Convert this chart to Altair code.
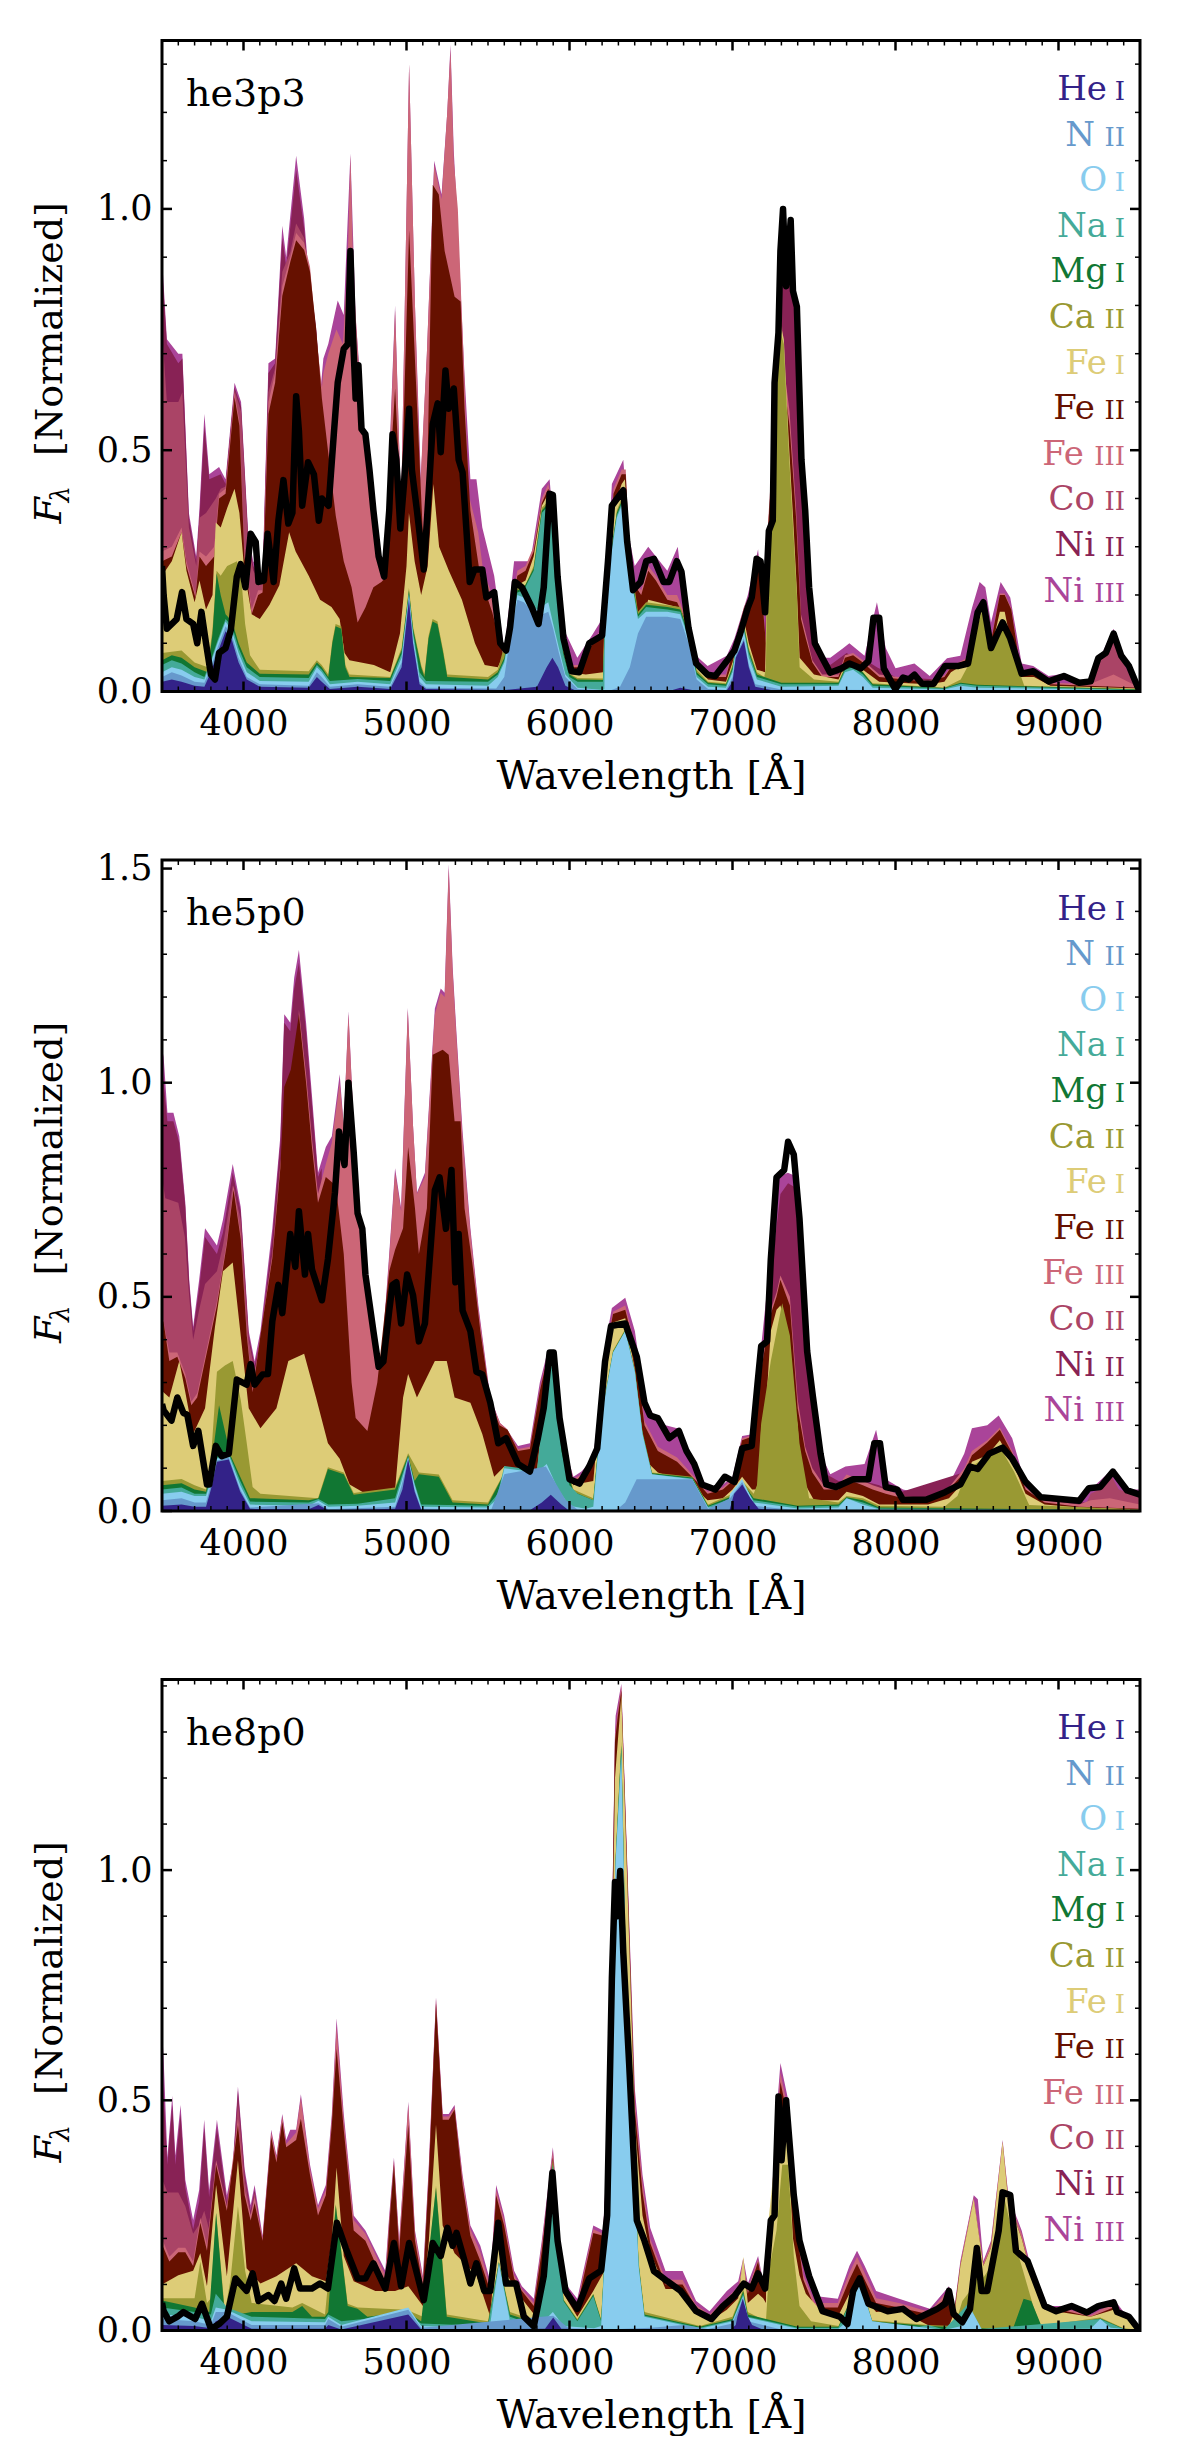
import altair as alt
import pandas as pd

W, H = 978, 651
FONT = "DejaVu Serif"
COLORS = {"He": "#332288", "N": "#6699CC", "O": "#88CCEE", "Na": "#44AA99", "Mg": "#117733", "Ca": "#999933",
          "Fe1": "#DDCC77", "Fe2": "#661100", "Fe3": "#CC6677", "Co": "#AA4466", "Ni2": "#882255", "Ni3": "#AA4499"}
ORDER = ["Ni3", "Ni2", "Co", "Fe3", "Fe2", "Fe1", "Ca", "Mg", "Na", "O", "N", "He"]
ELEMENTS = ["He", "N", "O", "Na", "Mg", "Ca", "Fe", "Fe", "Fe", "Co", "Ni", "Ni"]
IONS = ["I", "II", "I", "I", "I", "II", "I", "II", "III", "II", "II", "III"]
LEGEND_KEYS = ["He", "N", "O", "Na", "Mg", "Ca", "Fe1", "Fe2", "Fe3", "Co", "Ni2", "Ni3"]
X_MAJOR = [4000, 5000, 6000, 7000, 8000, 9000]
X_MINOR = [v for v in range(3600, 9500, 100) if v % 1000]

# ---------- he3p3 : upper edge of each species in the stack ----------
P1_Ni3 = [(3500,.9),(3530,.73),(3600,.7),(3625,.7),(3665,.37),(3710,.28),(3730,.38),(3760,.575),(3790,.45),(3850,.465),(3890,.44),(3945,.64),(3985,.6),(4030,.32),(4060,.27),(4117,.24),(4153,.68),(4194,.69),(4238,.965),(4262,.9),(4323,1.11),(4372,.98),(4396,.88),(4445,.755),(4474,.63),(4490,.69),(4520,.72),(4578,.81),(4615,.78),(4656,1.115),(4688,.775),(4736,.555),(4797,.375),(4846,.27),(4870,.24),(4894,.48),(4930,.8),(4967,.375),(5016,1.3),(5052,.8),(5088,.44),(5125,.7),(5170,1.1),(5215,1.03),(5250,1.2),(5270,1.34),(5290,1.12),(5307,1.01),(5332,.83),(5356,.655),(5392,.44),(5429,.44),(5465,.34),(5538,.24),(5600,.085),(5660,.27),(5760,.27),(5830,.42),(5878,.44),(5950,.14),(6048,.07),(6145,.12),(6218,.16),(6260,.43),(6330,.48),(6366,.32),(6400,.26),(6483,.3),(6530,.28),(6600,.25),(6664,.3),(6718,.15),(6777,.074),(6847,.053),(6965,.074),(7012,.11),(7094,.2),(7157,.295),(7188,.164),(7215,.3),(7250,.4),(7270,.7),(7300,.98),(7360,.95),(7380,.79),(7420,.46),(7450,.33),(7470,.2),(7510,.1),(7560,.07),(7600,.07),(7680,.09),(7717,.1),(7810,.074),(7886,.185),(7940,.09),(8000,.048),(8116,.058),(8210,.032),(8316,.069),(8398,.074),(8470,.174),(8516,.227),(8551,.216),(8586,.143),(8645,.227),(8704,.195),(8774,.058),(8845,.053),(8939,.032),(9033,.037),(9127,.018),(9220,.026),(9268,.08),(9338,.13),(9409,.058),(9491,.005),(9500,.003)]
P1_Ni2 = [(3500,.88),(3530,.72),(3600,.68),(3625,.69),(3665,.36),(3710,.27),(3730,.36),(3760,.55),(3790,.44),(3860,.45),(3890,.43),(3945,.63),(3985,.59),(4030,.31),(4060,.26),(4117,.23),(4153,.66),(4194,.68),(4238,.94),(4262,.88),(4323,1.08),(4372,.96),(4396,.87),(4445,.75),(4474,.62),(4476,0),(7190,0),(7215,.28),(7250,.38),(7270,.68),(7300,.96),(7360,.93),(7380,.78),(7420,.44),(7450,.3),(7470,.19),(7510,.09),(7600,.055),(7700,.08),(7800,.06),(7840,.06),(7886,.05),(8000,.03),(9500,0)]
P1_Co = [(3500,.75),(3530,.6),(3600,.6),(3625,.62),(3665,.34),(3710,.26),(3730,.36),(3770,.37),(3830,.4),(3860,.42),(3890,.425),(3945,.625),(3985,.58),(4030,.3),(4060,.25),(4117,.22),(4153,.62),(4194,.67),(4238,.87),(4287,.91),(4323,.97),(4372,.94),(4396,.86),(4445,.745),(4474,.61),(4476,0),(9180,0),(9190,.02),(9240,.05),(9268,.075),(9338,.125),(9370,.09),(9409,.052),(9480,.005),(9500,.002)]
P1_Fe3 = [(3500,.29),(3560,.3),(3620,.34),(3650,.27),(3705,.2),(3730,.29),(3770,.28),(3820,.3),(3850,.41),(3890,.42),(3945,.62),(3975,.56),(4005,.29),(4050,.17),(4090,.21),(4115,.21),(4153,.6),(4194,.66),(4238,.84),(4287,.9),(4323,.95),(4372,.93),(4408,.88),(4445,.74),(4481,.63),(4490,.66),(4520,.7),(4570,.75),(4610,.72),(4640,.9),(4656,1.11),(4675,.85),(4690,.77),(4720,.6),(4750,.52),(4790,.4),(4830,.3),(4870,.24),(4894,.46),(4930,.79),(4967,.375),(5016,1.3),(5052,.8),(5085,.43),(5125,.7),(5170,1.09),(5215,1.02),(5250,1.2),(5270,1.33),(5290,1.1),(5315,1.0),(5335,.82),(5355,.65),(5380,.41),(5440,.33),(5470,.25),(5526,.2),(5599,.075),(5640,.17),(5680,.25),(5730,.26),(5780,.3),(5830,.4),(5870,.43),(5900,.38),(5930,.23),(5960,.11),(6010,.055),(6060,.055),(6120,.1),(6205,.13),(6218,.2),(6270,.42),(6320,.46),(6345,.46),(6365,.31),(6400,.23),(6440,.21),(6483,.26),(6530,.24),(6600,.2),(6660,.2),(6730,.14),(6780,.06),(6850,.035),(6960,.035),(7000,.085),(7070,.175),(7120,.21),(7157,.285),(7190,.16),(7205,.1),(7220,.36),(7250,.52),(7290,.84),(7320,.66),(7350,.58),(7390,.38),(7420,.16),(7450,.12),(7490,.065),(7550,.035),(7650,.035),(7690,.075),(7740,.08),(7800,.065),(7900,.035),(8200,.022),(8300,.033),(8340,.052),(8430,.068),(8490,.137),(8530,.178),(8565,.133),(8590,.113),(8640,.203),(8670,.203),(8710,.173),(8770,.042),(8850,.037),(8950,.018),(9190,.015),(9338,.035),(9500,.008)]
P1_Fe2 = [(3500,.27),(3560,.28),(3620,.33),(3650,.26),(3705,.195),(3730,.28),(3770,.26),(3820,.28),(3850,.4),(3890,.41),(3945,.61),(3975,.55),(4005,.28),(4050,.16),(4090,.2),(4117,.205),(4153,.575),(4194,.64),(4238,.82),(4287,.89),(4323,.935),(4372,.915),(4408,.87),(4445,.755),(4481,.607),(4518,.5),(4566,.364),(4615,.27),(4663,.216),(4700,.143),(4748,.174),(4797,.216),(4846,.227),(4870,.235),(4894,.428),(4930,.628),(4967,.375),(5016,.956),(5064,.597),(5101,.322),(5118,.27),(5161,1.05),(5198,1.03),(5234,.913),(5295,.818),(5332,.808),(5356,.586),(5392,.375),(5453,.238),(5526,.164),(5599,.069),(5640,.16),(5680,.24),(5730,.25),(5780,.29),(5830,.39),(5870,.42),(5900,.37),(5930,.22),(5960,.1),(6010,.05),(6060,.05),(6120,.09),(6205,.12),(6218,.2),(6270,.41),(6320,.45),(6345,.45),(6365,.31),(6400,.22),(6440,.2),(6483,.25),(6530,.23),(6600,.19),(6660,.185),(6730,.135),(6780,.055),(6850,.03),(6960,.03),(7000,.08),(7070,.17),(7120,.2),(7157,.28),(7190,.16),(7205,.1),(7220,.35),(7250,.5),(7290,.82),(7320,.63),(7350,.55),(7390,.36),(7420,.15),(7450,.11),(7490,.06),(7550,.03),(7650,.03),(7690,.07),(7740,.075),(7800,.06),(7900,.03),(8200,.02),(8300,.03),(8340,.05),(8430,.065),(8490,.135),(8530,.175),(8565,.13),(8590,.11),(8640,.2),(8670,.2),(8710,.17),(8770,.04),(8850,.035),(8950,.015),(9500,.008)]
P1_Fe1 = [(3500,.24),(3560,.27),(3620,.33),(3650,.25),(3700,.185),(3730,.23),(3770,.17),(3810,.2),(3830,.35),(3860,.34),(3900,.38),(3945,.42),(3975,.37),(4005,.25),(4050,.16),(4100,.15),(4160,.18),(4220,.22),(4280,.33),(4320,.29),(4400,.24),(4470,.19),(4540,.175),(4590,.15),(4620,.08),(4650,.065),(4800,.055),(4900,.04),(4960,.12),(5000,.26),(5015,.37),(5050,.27),(5090,.2),(5130,.26),(5165,.43),(5200,.3),(5260,.25),(5340,.19),(5420,.1),(5480,.055),(5560,.05),(5600,.08),(5640,.15),(5680,.22),(5730,.23),(5780,.28),(5830,.385),(5870,.41),(5900,.36),(5930,.21),(5960,.09),(6000,.04),(6100,.035),(6205,.04),(6218,.19),(6270,.38),(6320,.43),(6340,.44),(6365,.3),(6400,.19),(6436,.14),(6483,.19),(6660,.175),(6730,.13),(6780,.05),(6850,.025),(6960,.02),(7000,.06),(7070,.15),(7100,.1),(7150,.045),(7200,.04),(7215,.28),(7240,.37),(7265,.66),(7290,.77),(7315,.73),(7345,.52),(7375,.34),(7395,.21),(7412,.07),(7500,.035),(7650,.025),(7690,.055),(7740,.06),(7800,.045),(7900,.02),(8200,.015),(8300,.02),(8340,.04),(8390,.05),(8430,.055),(8490,.125),(8530,.17),(8565,.125),(8590,.09),(8640,.165),(8670,.165),(8700,.115),(8770,.03),(8850,.03),(8950,.012),(9500,.006)]
P1_Ca = [(3500,.08),(3620,.085),(3700,.06),(3780,.05),(3810,.13),(3835,.25),(3860,.24),(3900,.26),(3960,.27),(3990,.22),(4010,.14),(4040,.075),(4100,.045),(4400,.042),(4450,.065),(4480,.055),(4520,.035),(4545,.105),(4565,.14),(4600,.135),(4625,.055),(4650,.035),(4900,.03),(4970,.09),(5015,.215),(5040,.135),(5090,.055),(5110,.035),(5135,.115),(5160,.15),(5190,.145),(5225,.085),(5250,.035),(5500,.03),(5560,.045),(5640,.145),(5680,.215),(5730,.22),(5780,.26),(5830,.38),(5870,.395),(5900,.35),(5930,.205),(5960,.088),(6000,.037),(6050,.028),(6205,.027),(6218,.155),(6290,.375),(6320,.4),(6350,.335),(6420,.165),(6470,.185),(6680,.175),(6730,.125),(6780,.045),(6850,.02),(6960,.017),(7000,.055),(7070,.14),(7100,.09),(7150,.04),(7195,.03),(7205,.05),(7215,.27),(7240,.36),(7265,.65),(7290,.75),(7315,.72),(7345,.5),(7375,.32),(7395,.2),(7412,.05),(7500,.025),(7650,.02),(7690,.05),(7740,.055),(7800,.04),(7860,.017),(8300,.008),(8400,.025),(8440,.05),(8490,.12),(8530,.165),(8565,.12),(8590,.085),(8650,.135),(8700,.105),(8740,.06),(8790,.012),(9500,.005)]
P1_Mg = [(3500,.065),(3560,.075),(3620,.07),(3700,.05),(3780,.04),(3810,.12),(3835,.245),(3860,.2),(3890,.16),(3930,.145),(3970,.1),(4020,.06),(4100,.037),(4400,.035),(4450,.06),(4480,.05),(4520,.03),(4545,.1),(4565,.135),(4600,.13),(4625,.05),(4650,.03),(4900,.028),(4970,.085),(5015,.21),(5040,.13),(5090,.05),(5110,.03),(5135,.11),(5160,.145),(5190,.14),(5225,.08),(5250,.03),(5500,.025),(5560,.04),(5600,.07),(5640,.14),(5680,.21),(5720,.215),(5780,.255),(5830,.375),(5870,.39),(5900,.345),(5930,.205),(5960,.085),(6000,.035),(6050,.025),(6205,.024),(6218,.15),(6250,.28),(6290,.37),(6320,.395),(6350,.33),(6380,.24),(6420,.16),(6470,.18),(6600,.175),(6680,.17),(6730,.12),(6780,.04),(6850,.018),(6960,.015),(7000,.05),(7020,.095),(7070,.135),(7100,.085),(7150,.035),(7300,.018),(7650,.018),(7690,.048),(7740,.053),(7800,.04),(7860,.015),(8300,.007),(8400,.018),(8500,.014),(9500,.004)]
P1_Na = [(3500,.055),(3560,.065),(3620,.058),(3700,.04),(3760,.03),(3800,.065),(3840,.105),(3890,.15),(3930,.135),(3970,.09),(4020,.05),(4100,.03),(4400,.028),(4450,.055),(4480,.045),(4530,.022),(4700,.026),(4900,.022),(4970,.078),(5015,.205),(5040,.125),(5080,.04),(5120,.022),(5500,.02),(5560,.035),(5600,.065),(5640,.135),(5680,.205),(5720,.21),(5780,.25),(5830,.37),(5870,.385),(5900,.34),(5930,.2),(5960,.08),(6000,.03),(6050,.02),(6205,.02),(6218,.145),(6250,.275),(6290,.365),(6320,.39),(6350,.325),(6380,.235),(6420,.155),(6470,.175),(6600,.17),(6680,.165),(6730,.115),(6780,.035),(6850,.015),(6960,.012),(7000,.045),(7020,.09),(7070,.13),(7100,.08),(7150,.03),(7300,.015),(7650,.015),(7690,.045),(7740,.05),(7800,.035),(7860,.012),(8300,.006),(8400,.016),(8500,.012),(9500,.003)]
P1_O = [(3500,.04),(3560,.05),(3620,.045),(3700,.03),(3760,.025),(3800,.06),(3840,.1),(3890,.145),(3930,.125),(3970,.08),(4020,.04),(4100,.022),(4400,.02),(4450,.05),(4480,.04),(4530,.015),(4700,.02),(4900,.015),(4970,.07),(5015,.2),(5040,.115),(5080,.03),(5120,.015),(5500,.012),(5560,.03),(5600,.06),(5640,.13),(5680,.2),(5720,.195),(5800,.17),(5870,.185),(5900,.14),(5935,.09),(5975,.035),(6050,.008),(6205,.003),(6214,.005),(6218,.14),(6250,.27),(6290,.36),(6320,.385),(6350,.32),(6380,.23),(6420,.15),(6470,.165),(6600,.165),(6680,.16),(6730,.11),(6780,.03),(6850,.01),(6960,.008),(7000,.04),(7020,.085),(7070,.125),(7100,.07),(7150,.025),(7300,.01),(7650,.012),(7690,.04),(7740,.045),(7800,.03),(7860,.008),(8300,.004),(8400,.012),(8500,.008),(9500,.002)]
P1_N = [(3500,.03),(3560,.04),(3620,.033),(3700,.02),(3760,.018),(3800,.05),(3840,.09),(3890,.135),(3930,.115),(3970,.07),(4020,.03),(4100,.015),(4400,.012),(4450,.04),(4480,.03),(4530,.01),(4700,.015),(4900,.01),(4970,.06),(5015,.195),(5040,.105),(5080,.02),(5120,.008),(5550,.006),(5600,.03),(5640,.12),(5680,.19),(5720,.185),(5800,.155),(5870,.165),(5900,.13),(5935,.08),(5975,.03),(6050,.005),(6250,.002),(6310,.01),(6370,.05),(6420,.12),(6470,.155),(6600,.155),(6680,.15),(6730,.1),(6780,.025),(6850,.005),(6960,.003),(7000,.03),(7020,.075),(7070,.11),(7100,.055),(7140,.015),(7300,.004),(9500,0)]
P1_He = [(3500,.02),(3560,.025),(3620,.02),(3700,.012),(3760,.01),(3800,.04),(3840,.08),(3890,.125),(3930,.105),(3970,.06),(4020,.025),(4100,.01),(4400,.008),(4450,.03),(4480,.02),(4530,.005),(4700,.01),(4900,.005),(4970,.05),(5015,.19),(5040,.1),(5080,.015),(5120,.005),(5600,.003),(5800,.01),(5860,.05),(5895,.07),(5930,.05),(5975,.012),(6050,0),(6600,0),(6680,.008),(6800,0),(6960,0),(7000,.02),(7020,.07),(7070,.105),(7100,.05),(7140,.01),(7250,.002),(9500,0)]
P1_OBS = [(3500,.26),(3510,.2),(3530,.13),(3560,.14),(3590,.15),(3623,.206),(3650,.15),(3691,.14),(3716,.1),(3742,.165),(3770,.1),(3800,.035),(3825,.025),(3850,.08),(3890,.09),(3922,.127),(3959,.238),(3983,.264),(4012,.216),(4044,.327),(4075,.31),(4092,.227),(4125,.23),(4148,.327),(4185,.227),(4214,.354),(4245,.438),(4275,.348),(4300,.37),(4323,.612),(4340,.54),(4360,.385),(4396,.475),(4432,.45),(4462,.354),(4481,.4),(4522,.385),(4554,.533),(4578,.64),(4615,.71),(4640,.72),(4656,.913),(4670,.755),(4688,.607),(4705,.676),(4724,.544),(4748,.533),(4773,.459),(4797,.375),(4829,.28),(4863,.238),(4894,.375),(4914,.533),(4938,.48),(4962,.338),(4984,.428),(5016,.586),(5033,.459),(5064,.375),(5106,.253),(5137,.417),(5161,.554),(5191,.597),(5210,.496),(5239,.665),(5259,.586),(5290,.628),(5320,.48),(5344,.454),(5368,.333),(5388,.227),(5417,.253),(5465,.253),(5490,.195),(5538,.206),(5575,.1),(5611,.085),(5635,.132),(5665,.227),(5708,.216),(5769,.174),(5810,.14),(5842,.216),(5878,.41),(5898,.407),(5927,.238),(5963,.11),(6012,.042),(6060,.04),(6121,.1),(6170,.11),(6200,.116),(6236,.27),(6260,.385),(6330,.417),(6354,.31),(6390,.21),(6436,.227),(6471,.27),(6518,.275),(6577,.227),(6612,.227),(6659,.27),(6687,.248),(6730,.132),(6777,.058),(6847,.035),(6894,.032),(6965,.063),(7012,.085),(7047,.12),(7094,.174),(7118,.195),(7148,.275),(7172,.27),(7200,.164),(7223,.333),(7247,.354),(7258,.64),(7282,.744),(7294,.913),(7310,1.0),(7329,.84),(7357,.977),(7371,.83),(7395,.797),(7423,.48),(7446,.375),(7470,.216),(7505,.1),(7552,.069),(7599,.039),(7670,.048),(7717,.058),(7787,.048),(7834,.063),(7865,.153),(7900,.153),(7928,.048),(7999,.005),(8046,.029),(8081,.025),(8116,.035),(8163,.016),(8234,.016),(8304,.053),(8387,.053),(8445,.058),(8504,.164),(8539,.185),(8586,.09),(8657,.143),(8704,.11),(8774,.037),(8845,.042),(8939,.021),(9033,.032),(9127,.018),(9197,.021),(9244,.069),(9291,.08),(9338,.12),(9385,.074),(9432,.053),(9491,.005),(9500,.003)]

# ---------- he5p0 ----------
P2_Ni3 = [(3500,1.08),(3510,1.06),(3533,.93),(3570,.93),(3606,.875),(3643,.72),(3667,.54),(3691,.43),(3728,.54),(3764,.66),(3837,.62),(3874,.68),(3934,.81),(3983,.71),(4032,.42),(4068,.35),(4104,.42),(4177,.66),(4226,.875),(4250,1.16),(4287,1.14),(4311,1.245),(4340,1.31),(4384,1.14),(4420,.97),(4457,.79),(4505,.85),(4542,.875),(4590,1.02),(4615,.9),(4644,1.167),(4676,.9),(4700,.683),(4748,.575),(4797,.42),(4846,.35),(4894,.6),(4930,.8),(4967,.707),(5008,1.175),(5040,.9),(5064,.743),(5113,.79),(5174,1.173),(5210,1.22),(5234,1.21),(5259,1.51),(5283,1.27),(5307,1.113),(5344,.886),(5392,.66),(5441,.48),(5514,.265),(5575,.205),(5611,.193),(5684,.152),(5757,.158),(5818,.3),(5866,.373),(5915,.35),(5963,.158),(6024,.08),(6073,.092),(6146,.122),(6218,.385),(6260,.474),(6342,.498),(6401,.42),(6460,.265),(6542,.205),(6660,.193),(6777,.098),(6847,.056),(6941,.062),(7000,.08),(7059,.175),(7130,.18),(7176,.385),(7235,.6),(7270,.78),(7340,.79),(7400,.78),(7435,.42),(7482,.27),(7540,.134),(7600,.086),(7693,.104),(7810,.11),(7881,.19),(7940,.074),(8046,.05),(8187,.038),(8328,.062),(8422,.134),(8469,.193),(8563,.2),(8633,.223),(8716,.17),(8798,.062),(8915,.032),(9127,.02),(9197,.05),(9315,.092),(9409,.05),(9500,.05)]
P2_Ni2 = [(3500,1.04),(3533,.91),(3570,.91),(3606,.86),(3643,.71),(3667,.53),(3691,.42),(3728,.52),(3764,.64),(3837,.6),(3874,.65),(3934,.79),(3983,.7),(4032,.41),(4068,.34),(4104,.4),(4177,.64),(4226,.86),(4250,1.14),(4287,1.12),(4311,1.22),(4340,1.28),(4384,1.12),(4420,.95),(4457,.78),(4480,.8),(4482,0),(7190,0),(7200,.3),(7235,.55),(7294,.74),(7341,.765),(7388,.755),(7423,.54),(7470,.3),(7517,.18),(7575,.086),(7650,.07),(7800,.07),(7900,.06),(8000,.04),(8500,.1),(8600,.13),(8700,.12),(8800,.04),(9500,0)]
P2_Co = [(3500,.78),(3520,.73),(3600,.72),(3640,.64),(3667,.5),(3691,.4),(3728,.47),(3764,.53),(3837,.56),(3874,.62),(3934,.76),(3983,.68),(4032,.4),(4068,.33),(4104,.38),(4130,.2),(4131,0),(9150,0),(9197,.04),(9250,.05),(9315,.088),(9370,.05),(9409,.045),(9500,.045)]
P2_Fe3 = [(3500,.46),(3545,.37),(3594,.37),(3643,.32),(3680,.255),(3716,.275),(3764,.36),(3837,.49),(3898,.63),(3939,.76),(3983,.645),(4020,.42),(4056,.285),(4104,.41),(4177,.6),(4226,.81),(4275,.95),(4323,1.0),(4340,1.17),(4384,1.02),(4420,.87),(4457,.74),(4505,.81),(4542,.86),(4590,1.0),(4615,.9),(4644,1.16),(4676,.9),(4700,.68),(4748,.57),(4797,.41),(4846,.34),(4894,.59),(4930,.79),(4967,.7),(5008,1.17),(5040,.9),(5064,.74),(5113,.78),(5174,1.16),(5210,1.21),(5234,1.2),(5259,1.5),(5283,1.26),(5307,1.1),(5344,.87),(5392,.65),(5441,.47),(5514,.26),(5575,.205),(5620,.19),(5684,.145),(5757,.15),(5818,.285),(5866,.365),(5915,.345),(5963,.155),(6024,.075),(6073,.085),(6146,.12),(6218,.37),(6267,.465),(6342,.48),(6401,.39),(6460,.21),(6542,.15),(6660,.125),(6777,.075),(6847,.045),(6941,.055),(7000,.075),(7059,.17),(7130,.178),(7176,.34),(7235,.47),(7270,.51),(7294,.55),(7352,.5),(7400,.26),(7446,.15),(7490,.1),(7560,.06),(7650,.06),(7700,.085),(7800,.07),(7860,.06),(7940,.05),(8046,.035),(8187,.03),(8328,.055),(8422,.1),(8469,.14),(8563,.165),(8640,.195),(8716,.14),(8798,.055),(8915,.025),(9127,.015),(9197,.025),(9315,.03),(9500,.015)]
P2_Fe2 = [(3500,.45),(3510,.44),(3545,.35),(3594,.36),(3643,.31),(3680,.247),(3716,.265),(3764,.35),(3837,.48),(3898,.623),(3939,.75),(3983,.635),(4020,.41),(4056,.277),(4104,.41),(4177,.59),(4226,.8),(4250,.99),(4290,1.03),(4340,1.16),(4384,1.0),(4420,.85),(4457,.72),(4505,.78),(4566,.76),(4615,.6),(4663,.3),(4688,.217),(4760,.187),(4821,.3),(4894,.56),(4930,.61),(4979,.66),(5010,.85),(5052,.707),(5076,.6),(5125,.707),(5161,1.065),(5222,1.077),(5259,1.065),(5295,.91),(5332,.91),(5356,.707),(5405,.575),(5453,.42),(5514,.26),(5570,.2),(5620,.19),(5684,.14),(5757,.145),(5818,.28),(5866,.36),(5915,.34),(5963,.15),(6024,.07),(6073,.08),(6146,.115),(6218,.36),(6267,.46),(6342,.47),(6401,.38),(6460,.2),(6542,.14),(6660,.115),(6777,.07),(6847,.04),(6941,.05),(7000,.07),(7059,.165),(7130,.175),(7176,.33),(7235,.46),(7270,.5),(7294,.54),(7352,.48),(7400,.24),(7446,.14),(7490,.09),(7560,.05),(7650,.05),(7700,.075),(7800,.06),(7860,.05),(7940,.04),(8046,.03),(8187,.025),(8328,.05),(8422,.09),(8469,.13),(8563,.16),(8640,.19),(8716,.135),(8798,.05),(8915,.02),(9127,.01),(9500,.005)]
P2_Fe1 = [(3500,.28),(3545,.265),(3606,.35),(3643,.277),(3691,.18),(3764,.24),(3825,.43),(3874,.56),(3934,.58),(3983,.41),(4032,.24),(4104,.193),(4202,.24),(4275,.35),(4372,.367),(4445,.265),(4518,.158),(4590,.122),(4651,.062),(4760,.038),(4846,.026),(4930,.05),(4979,.265),(5010,.32),(5064,.265),(5174,.35),(5247,.35),(5295,.265),(5392,.253),(5465,.18),(5538,.08),(5600,.104),(5640,.1),(5800,.09),(5830,.2),(5866,.35),(5915,.33),(5963,.14),(6024,.06),(6073,.065),(6146,.07),(6200,.3),(6267,.44),(6342,.45),(6401,.33),(6460,.12),(6542,.09),(6660,.075),(6777,.05),(6847,.025),(6941,.03),(7000,.05),(7059,.08),(7120,.05),(7160,.05),(7176,.2),(7200,.21),(7235,.42),(7270,.47),(7294,.48),(7340,.42),(7370,.27),(7400,.2),(7420,.08),(7500,.025),(7650,.025),(7700,.045),(7800,.035),(7900,.015),(8200,.015),(8328,.03),(8422,.07),(8469,.115),(8563,.13),(8640,.165),(8716,.115),(8798,.04),(8915,.015),(9127,.008),(9500,.004)]
P2_Ca = [(3500,.07),(3620,.075),(3700,.06),(3770,.05),(3800,.12),(3837,.325),(3886,.34),(3934,.35),(3983,.26),(4020,.158),(4056,.056),(4104,.04),(4457,.03),(4518,.102),(4615,.09),(4676,.042),(4930,.055),(5010,.135),(5076,.09),(5198,.085),(5283,.025),(5500,.02),(5600,.09),(5800,.085),(5866,.34),(5915,.32),(5963,.13),(6024,.05),(6146,.03),(6194,.22),(6267,.375),(6342,.425),(6401,.33),(6448,.185),(6506,.09),(6753,.08),(6850,.015),(7000,.04),(7059,.07),(7130,.04),(7150,.06),(7176,.205),(7235,.35),(7305,.485),(7352,.41),(7411,.158),(7470,.03),(7650,.02),(7700,.035),(7800,.03),(7900,.012),(8300,.01),(8380,.035),(8445,.098),(8539,.122),(8645,.146),(8727,.092),(8820,.014),(9500,.003)]
P2_Mg = [(3500,.06),(3620,.065),(3700,.05),(3770,.045),(3800,.1),(3850,.247),(3886,.187),(3920,.13),(3980,.08),(4040,.03),(4400,.025),(4460,.03),(4518,.098),(4615,.086),(4676,.038),(4930,.05),(4970,.09),(5010,.13),(5050,.07),(5076,.086),(5198,.08),(5283,.02),(5500,.015),(5600,.088),(5800,.08),(5866,.335),(5915,.315),(5963,.125),(6024,.045),(6146,.025),(6194,.218),(6267,.372),(6342,.422),(6401,.327),(6448,.182),(6506,.088),(6753,.078),(6850,.012),(7000,.035),(7059,.068),(7130,.03),(7400,.012),(7650,.015),(7700,.032),(7800,.025),(7900,.008),(9500,.002)]
P2_Na = [(3500,.05),(3620,.055),(3700,.04),(3770,.04),(3800,.08),(3837,.125),(3910,.135),(3980,.07),(4040,.022),(4400,.02),(4460,.028),(4520,.015),(4700,.017),(4930,.03),(4970,.08),(5010,.127),(5050,.065),(5090,.015),(5500,.012),(5560,.04),(5600,.105),(5800,.095),(5830,.2),(5866,.35),(5905,.33),(5950,.14),(6000,.06),(6050,.04),(6146,.025),(6194,.217),(6267,.37),(6342,.42),(6401,.325),(6448,.18),(6506,.086),(6753,.076),(6850,.01),(7000,.03),(7059,.066),(7130,.025),(7400,.01),(7650,.012),(7700,.03),(7800,.02),(7900,.006),(9500,.002)]
P2_O = [(3500,.04),(3620,.045),(3700,.035),(3770,.035),(3800,.07),(3837,.122),(3910,.13),(3980,.06),(4040,.015),(4400,.012),(4460,.024),(4520,.01),(4700,.012),(4930,.02),(4970,.07),(5010,.125),(5050,.06),(5090,.01),(5500,.008),(5560,.03),(5600,.1),(5800,.09),(5860,.11),(5930,.05),(6000,.012),(6100,.005),(6146,.01),(6194,.217),(6267,.37),(6342,.42),(6401,.325),(6448,.18),(6506,.086),(6753,.074),(6850,.008),(6970,.008),(6985,.04),(7059,.075),(7130,.02),(7400,.006),(7650,.008),(7700,.03),(7800,.015),(7900,.004),(9500,.001)]
P2_N = [(3500,.025),(3620,.03),(3700,.02),(3770,.02),(3800,.06),(3837,.118),(3910,.125),(3980,.05),(4040,.008),(4460,.018),(4520,.004),(4930,.01),(4970,.06),(5010,.122),(5050,.05),(5090,.005),(5520,.003),(5600,.086),(5855,.104),(5975,.026),(6050,.003),(6290,.003),(6342,.02),(6412,.074),(6753,.074),(6850,.005),(6985,.03),(7059,.068),(7130,.012),(7400,.002),(9500,0)]
P2_He = [(3500,.012),(3620,.015),(3700,.01),(3770,.01),(3800,.05),(3837,.115),(3910,.12),(3980,.045),(4040,.005),(4400,.004),(4460,.014),(4520,.002),(4930,.005),(4975,.05),(5010,.12),(5050,.045),(5090,.003),(5750,0),(5830,.02),(5885,.038),(5950,.015),(6000,0),(6980,0),(7010,.04),(7060,.062),(7110,.03),(7160,.005),(7400,0),(9500,0)]
P2_OBS = [(3500,.25),(3510,.235),(3558,.211),(3594,.265),(3631,.229),(3655,.225),(3691,.152),(3723,.187),(3776,.062),(3790,.062),(3830,.152),(3866,.128),(3910,.134),(3959,.307),(4019,.295),(4044,.343),(4068,.295),(4117,.319),(4150,.32),(4177,.444),(4214,.528),(4238,.462),(4287,.647),(4318,.57),(4340,.7),(4377,.552),(4396,.647),(4420,.564),(4481,.492),(4518,.588),(4561,.743),(4586,.886),(4620,.808),(4644,1.0),(4676,.838),(4700,.695),(4729,.659),(4748,.552),(4797,.42),(4829,.337),(4858,.349),(4894,.468),(4914,.528),(4938,.534),(4967,.438),(5004,.552),(5040,.504),(5076,.396),(5113,.438),(5174,.749),(5203,.779),(5242,.659),(5276,.796),(5300,.534),(5320,.647),(5344,.468),(5392,.42),(5429,.325),(5465,.319),(5514,.253),(5563,.158),(5611,.17),(5684,.11),(5757,.092),(5806,.17),(5842,.241),(5878,.37),(5903,.37),(5939,.217),(6000,.074),(6061,.064),(6121,.104),(6170,.146),(6218,.349),(6255,.432),(6342,.438),(6413,.36),(6460,.253),(6495,.223),(6542,.217),(6612,.17),(6671,.187),(6718,.14),(6765,.11),(6812,.062),(6894,.05),(6953,.08),(7012,.068),(7059,.146),(7118,.152),(7153,.295),(7176,.385),(7212,.396),(7235,.588),(7270,.779),(7317,.796),(7341,.862),(7376,.832),(7411,.683),(7458,.373),(7494,.265),(7540,.134),(7575,.062),(7635,.056),(7740,.074),(7834,.074),(7870,.158),(7905,.158),(7940,.056),(8010,.05),(8046,.026),(8187,.026),(8304,.044),(8398,.062),(8457,.104),(8504,.098),(8575,.134),(8657,.148),(8716,.122),(8798,.068),(8891,.032),(9127,.024),(9186,.053),(9256,.056),(9334,.092),(9421,.048),(9500,.038)]

# ---------- he8p0 ----------
P3_Ni3 = [(3500,.66),(3510,.59),(3533,.376),(3563,.51),(3582,.38),(3614,.49),(3643,.327),(3691,.24),(3728,.305),(3759,.458),(3789,.305),(3837,.458),(3898,.294),(3934,.36),(3966,.53),(4007,.35),(4044,.272),(4068,.316),(4117,.206),(4170,.436),(4202,.38),(4238,.47),(4262,.414),(4287,.436),(4323,.436),(4352,.513),(4408,.36),(4457,.272),(4505,.316),(4542,.47),(4571,.678),(4615,.47),(4676,.25),(4748,.217),(4809,.173),(4870,.13),(4894,.25),(4923,.376),(4955,.195),(5011,.497),(5052,.217),(5101,.118),(5137,.36),(5181,.724),(5222,.47),(5259,.47),(5295,.49),(5344,.338),(5392,.228),(5453,.184),(5514,.107),(5550,.316),(5599,.25),(5660,.13),(5708,.096),(5781,.069),(5830,.195),(5898,.398),(5963,.107),(6048,.069),(6146,.228),(6206,.217),(6243,.47),(6279,1.3),(6283,1.335),(6318,1.405),(6354,1.018),(6401,.524),(6448,.338),(6495,.223),(6589,.129),(6694,.129),(6777,.064),(6859,.042),(6965,.086),(7035,.107),(7066,.157),(7094,.102),(7157,.162),(7188,.107),(7235,.25),(7270,.47),(7294,.581),(7341,.502),(7371,.316),(7435,.14),(7505,.075),(7646,.069),(7717,.14),(7764,.173),(7811,.14),(7881,.086),(8022,.069),(8210,.047),(8328,.096),(8363,.053),(8398,.151),(8480,.294),(8505,.285),(8539,.151),(8586,.195),(8657,.414),(8692,.294),(8774,.217),(8845,.118),(8915,.053),(9009,.053),(9197,.036),(9338,.069),(9409,.036),(9491,.003),(9500,.002)]
P3_Ni2 = [(3500,.58),(3533,.36),(3563,.49),(3582,.36),(3614,.47),(3643,.31),(3691,.22),(3728,.28),(3759,.44),(3789,.29),(3837,.44),(3898,.28),(3934,.35),(3966,.52),(4007,.34),(4044,.26),(4068,.305),(4117,.19),(4119,0),(9500,0)]
P3_Co = [(3500,.33),(3533,.3),(3600,.3),(3643,.27),(3691,.21),(3728,.23),(3759,.26),(3789,.22),(3837,.3),(3898,.26),(3934,.33),(3966,.5),(4007,.33),(4044,.25),(4068,.3),(4117,.19),(4119,0),(9500,0)]
P3_Fe3 = [(3500,.2),(3545,.16),(3600,.18),(3643,.18),(3691,.15),(3735,.245),(3776,.185),(3832,.37),(3898,.27),(3966,.46),(4007,.305),(4044,.25),(4068,.29),(4117,.2),(4170,.43),(4202,.375),(4238,.465),(4262,.405),(4323,.43),(4352,.505),(4408,.35),(4457,.265),(4505,.305),(4542,.46),(4571,.66),(4615,.455),(4676,.24),(4748,.21),(4809,.165),(4870,.12),(4894,.24),(4923,.37),(4955,.19),(5011,.49),(5052,.21),(5101,.11),(5137,.35),(5181,.72),(5222,.465),(5259,.465),(5295,.485),(5344,.33),(5392,.22),(5453,.17),(5514,.095),(5550,.305),(5599,.24),(5660,.12),(5708,.09),(5781,.06),(5830,.185),(5898,.39),(5963,.1),(6048,.06),(6146,.22),(6206,.21),(6243,.46),(6279,1.29),(6295,1.34),(6318,1.4),(6354,1.01),(6401,.5),(6448,.32),(6495,.2),(6589,.11),(6694,.11),(6777,.055),(6859,.035),(6965,.07),(7035,.095),(7066,.15),(7094,.09),(7157,.155),(7188,.1),(7235,.22),(7270,.44),(7294,.56),(7341,.48),(7371,.29),(7435,.12),(7505,.06),(7646,.06),(7717,.125),(7764,.16),(7811,.125),(7881,.07),(8022,.06),(8210,.04),(8328,.09),(8363,.05),(8398,.145),(8480,.29),(8539,.145),(8586,.19),(8657,.41),(8692,.29),(8774,.21),(8845,.11),(8915,.05),(9009,.05),(9197,.033),(9338,.06),(9409,.033),(9491,.002)]
P3_Fe2 = [(3500,.185),(3510,.179),(3545,.15),(3600,.17),(3643,.17),(3691,.14),(3735,.234),(3776,.173),(3832,.36),(3898,.26),(3966,.447),(4007,.294),(4044,.239),(4068,.277),(4117,.195),(4170,.42),(4202,.365),(4238,.453),(4262,.398),(4323,.414),(4352,.46),(4408,.338),(4457,.25),(4505,.294),(4542,.447),(4571,.612),(4615,.436),(4676,.217),(4748,.195),(4809,.146),(4870,.086),(4894,.228),(4923,.36),(4955,.173),(5011,.447),(5052,.195),(5101,.096),(5137,.338),(5181,.71),(5222,.458),(5259,.458),(5295,.48),(5344,.316),(5392,.206),(5453,.151),(5514,.086),(5550,.294),(5599,.228),(5660,.113),(5708,.086),(5781,.053),(5830,.173),(5898,.376),(5963,.091),(6048,.053),(6146,.212),(6206,.206),(6243,.447),(6279,1.28),(6295,1.33),(6318,1.39),(6354,1.0),(6401,.48),(6448,.3),(6495,.19),(6589,.1),(6694,.1),(6777,.05),(6859,.03),(6965,.06),(7035,.085),(7066,.14),(7094,.08),(7157,.15),(7188,.09),(7235,.21),(7270,.42),(7294,.54),(7341,.46),(7371,.27),(7435,.11),(7505,.05),(7646,.05),(7717,.11),(7764,.145),(7811,.11),(7881,.06),(8022,.05),(8210,.035),(8328,.08),(8363,.045),(8398,.14),(8480,.28),(8539,.14),(8586,.18),(8657,.4),(8692,.28),(8774,.2),(8845,.105),(8915,.045),(9009,.045),(9197,.03),(9338,.05),(9409,.03),(9491,.002)]
P3_Fe1 = [(3500,.1),(3600,.12),(3691,.13),(3735,.168),(3776,.096),(3832,.316),(3898,.118),(3966,.37),(4019,.135),(4104,.102),(4202,.118),(4323,.146),(4420,.118),(4505,.107),(4542,.195),(4571,.354),(4615,.162),(4676,.107),(4809,.086),(4930,.086),(5011,.096),(5101,.053),(5137,.195),(5181,.447),(5222,.228),(5295,.168),(5429,.12),(5514,.03),(5550,.195),(5611,.124),(5708,.069),(5781,.036),(5842,.107),(5898,.37),(5963,.08),(6048,.03),(6146,.086),(6206,.124),(6243,.36),(6279,1.2),(6318,1.38),(6354,.98),(6401,.45),(6448,.25),(6495,.17),(6589,.09),(6694,.09),(6777,.045),(6859,.02),(6965,.045),(7035,.07),(7066,.16),(7094,.06),(7157,.08),(7188,.07),(7205,.06),(7210,.2),(7270,.41),(7294,.5),(7341,.4),(7371,.2),(7411,.12),(7450,.08),(7550,.04),(7646,.03),(7717,.08),(7764,.115),(7811,.07),(7881,.04),(8022,.045),(8100,.03),(8210,.01),(8328,.01),(8363,.04),(8398,.14),(8480,.285),(8539,.14),(8586,.18),(8657,.41),(8692,.28),(8774,.2),(8845,.105),(8915,.045),(9009,.04),(9197,.03),(9338,.045),(9409,.03),(9491,.002)]
P3_Ca = [(3500,.07),(3700,.07),(3735,.15),(3776,.06),(3800,.07),(3832,.255),(3886,.04),(3920,.11),(3966,.27),(4010,.13),(4050,.06),(4300,.05),(4360,.06),(4500,.035),(4566,.275),(4639,.058),(4700,.05),(5000,.045),(5101,.03),(5181,.315),(5247,.035),(5500,.02),(5567,.15),(5635,.04),(5800,.02),(5898,.365),(5963,.068),(6048,.025),(6146,.08),(6194,.025),(6213,.145),(6260,.75),(6283,1.03),(6318,1.28),(6342,.87),(6377,.53),(6424,.15),(6460,.04),(6800,.01),(7000,.03),(7066,.09),(7094,.04),(7205,.02),(7212,.06),(7223,.13),(7270,.217),(7305,.36),(7341,.36),(7376,.162),(7411,.053),(7482,.02),(7650,.01),(7780,.11),(7857,.022),(8200,.012),(8363,.01),(8410,.064),(8457,.086),(8516,.184),(8540,.115),(8586,.14),(8657,.305),(8727,.195),(8774,.14),(8845,.053),(8890,.01),(9256,.028),(9400,.005),(9500,.001)]
P3_Mg = [(3500,.065),(3700,.05),(3790,.04),(3832,.255),(3886,.03),(4050,.04),(4300,.04),(4360,.053),(4420,.03),(4500,.03),(4520,.04),(4566,.272),(4639,.053),(4700,.047),(4760,.03),(5000,.04),(5090,.02),(5181,.31),(5247,.03),(5500,.015),(5567,.148),(5635,.035),(5800,.015),(5898,.362),(5963,.066),(6048,.022),(6146,.078),(6194,.022),(6213,.143),(6260,.745),(6283,1.025),(6318,1.27),(6342,.86),(6377,.525),(6424,.145),(6460,.035),(6800,.008),(7000,.025),(7066,.085),(7094,.035),(7400,.008),(7650,.008),(7780,.108),(7857,.02),(8200,.01),(8700,.002),(8720,.003),(8786,.069),(8833,.064),(8903,.003),(9256,.026),(9400,.004),(9500,.001)]
P3_Na = [(3500,.05),(3700,.04),(3800,.035),(3830,.08),(3900,.05),(4050,.03),(4500,.025),(4520,.035),(4600,.02),(5000,.035),(5090,.015),(5500,.01),(5567,.147),(5635,.03),(5800,.01),(5898,.36),(5963,.064),(6048,.02),(6146,.075),(6194,.02),(6213,.142),(6260,.743),(6283,1.02),(6318,1.27),(6342,.855),(6377,.522),(6424,.142),(6460,.032),(6800,.006),(7000,.022),(7066,.08),(7094,.03),(7400,.006),(7650,.006),(7780,.107),(7857,.02),(8100,.005),(8200,.012),(8300,.002),(8445,.058),(8528,.003),(9256,.025),(9400,.003),(9500,.001)]
P3_O = [(3500,.035),(3700,.03),(3800,.02),(3830,.05),(3900,.045),(4050,.02),(4500,.018),(4520,.03),(4600,.012),(5011,.05),(5090,.01),(5510,.005),(5567,.146),(5635,.02),(5800,.006),(5898,.04),(5963,.01),(6150,.005),(6194,.01),(6213,.14),(6260,.743),(6283,1.02),(6318,1.25),(6342,.85),(6377,.52),(6424,.14),(6460,.03),(6800,.004),(7000,.02),(7066,.075),(7094,.028),(7400,.004),(7650,.004),(7705,.02),(7780,.107),(7857,.02),(8300,.001),(8405,.01),(8445,.058),(8528,.003),(9197,.004),(9256,.025),(9320,.006),(9500,.001)]
P3_N = [(3500,.025),(3700,.02),(3800,.012),(3830,.04),(3900,.04),(4050,.012),(4500,.012),(4520,.025),(4600,.008),(5011,.045),(5090,.006),(5900,.032),(6000,.004),(6300,.003),(6500,.006),(6700,.012),(6850,.003),(7000,.015),(7066,.072),(7094,.02),(7300,.002),(9500,0)]
P3_He = [(3500,.012),(3700,.01),(3800,.005),(3830,.02),(3900,.03),(4050,.004),(4500,.004),(4520,.012),(4600,.002),(5011,.035),(5090,.002),(5850,.004),(5900,.028),(5950,.004),(6980,0),(7020,.012),(7030,.03),(7063,.069),(7095,.03),(7120,.012),(7200,0),(9500,0)]
P3_OBS = [(3500,.06),(3510,.042),(3545,.02),(3595,.03),(3631,.04),(3704,.025),(3745,.058),(3801,.003),(3850,.014),(3898,.03),(3951,.113),(4019,.086),(4056,.124),(4092,.064),(4153,.077),(4190,.064),(4231,.102),(4262,.069),(4311,.135),(4347,.091),(4420,.091),(4469,.102),(4518,.091),(4573,.234),(4627,.179),(4700,.113),(4748,.113),(4797,.146),(4870,.091),(4923,.19),(4967,.096),(5016,.19),(5052,.14),(5106,.066),(5161,.19),(5210,.162),(5251,.223),(5283,.184),(5307,.212),(5356,.151),(5392,.102),(5429,.146),(5477,.086),(5514,.086),(5563,.234),(5611,.102),(5672,.102),(5720,.03),(5781,.009),(5842,.118),(5895,.343),(5927,.195),(5976,.086),(6048,.047),(6121,.113),(6194,.13),(6231,.25),(6260,.765),(6279,.974),(6295,.9),(6311,.998),(6330,.82),(6366,.579),(6413,.239),(6460,.195),(6518,.129),(6600,.107),(6682,.086),(6777,.042),(6871,.025),(6941,.053),(7012,.075),(7070,.102),(7118,.091),(7157,.124),(7200,.091),(7235,.239),(7258,.25),(7282,.508),(7301,.37),(7329,.5),(7376,.294),(7411,.195),(7470,.118),(7552,.042),(7658,.03),(7705,.014),(7740,.086),(7780,.113),(7834,.058),(7952,.042),(8046,.047),(8128,.025),(8257,.047),(8304,.058),(8328,.086),(8356,.036),(8410,.018),(8457,.047),(8499,.179),(8528,.086),(8563,.086),(8633,.217),(8657,.3),(8704,.294),(8739,.173),(8810,.151),(8915,.053),(8986,.042),(9080,.053),(9174,.039),(9244,.053),(9338,.061),(9360,.04),(9432,.03),(9491,.003),(9500,.002)]

PANELS = [
    ("he3p3", 1.349, [0, .5, 1.0], [.1,.2,.3,.4,.6,.7,.8,.9,1.1,1.2,1.3], P1_OBS,
     {"Ni3":P1_Ni3,"Ni2":P1_Ni2,"Co":P1_Co,"Fe3":P1_Fe3,"Fe2":P1_Fe2,"Fe1":P1_Fe1,"Ca":P1_Ca,"Mg":P1_Mg,"Na":P1_Na,"O":P1_O,"N":P1_N,"He":P1_He}),
    ("he5p0", 1.52, [0, .5, 1.0, 1.5], [.1,.2,.3,.4,.6,.7,.8,.9,1.1,1.2,1.3,1.4], P2_OBS,
     {"Ni3":P2_Ni3,"Ni2":P2_Ni2,"Co":P2_Co,"Fe3":P2_Fe3,"Fe2":P2_Fe2,"Fe1":P2_Fe1,"Ca":P2_Ca,"Mg":P2_Mg,"Na":P2_Na,"O":P2_O,"N":P2_N,"He":P2_He}),
    ("he8p0", 1.414, [0, .5, 1.0], [.1,.2,.3,.4,.6,.7,.8,.9,1.1,1.2,1.3,1.4], P3_OBS,
     {"Ni3":P3_Ni3,"Ni2":P3_Ni2,"Co":P3_Co,"Fe3":P3_Fe3,"Fe2":P3_Fe2,"Fe1":P3_Fe1,"Ca":P3_Ca,"Mg":P3_Mg,"Na":P3_Na,"O":P3_O,"N":P3_N,"He":P3_He}),
]

xs = alt.Scale(domain=[3500, 9500], nice=False, zero=False)
ONE = pd.DataFrame({"a": [0]})


def frame(points):
    return pd.DataFrame(points, columns=["w", "f"])


def panel(name, ymax, ymaj, ymin, obs, layers):
    ys = alt.Scale(domain=[0, ymax], nice=False, zero=False)
    X = alt.X("w:Q", scale=xs, axis=None)
    Y = alt.Y("f:Q", scale=ys, axis=None)
    parts = []
    axis_x = alt.Axis(values=X_MAJOR, ticks=False, domain=False, grid=False, format="d", labelFont=FONT, labelFontSize=35,
                      labelColor="black", labelPadding=15, titleFont=FONT, titleFontSize=40,
                      titleFontWeight="normal", titleColor="black", titlePadding=15)
    axis_y = alt.Axis(values=ymaj, ticks=False, domain=False, grid=False, format=".1f", labelFont=FONT, labelFontSize=35,
                      labelColor="black", labelPadding=10, titleFont=FONT, titleFontSize=38,
                      titleFontWeight="normal", titleColor="black", titleX=-101, titleY=288, titleAlign="center",
                      titleBaseline="alphabetic")
    # carries the axes
    parts.append(alt.Chart(frame(obs)).mark_line(opacity=0).encode(
        x=alt.X("w:Q", scale=xs, axis=axis_x, title="Wavelength [Å]"),
        y=alt.Y("f:Q", scale=ys, axis=axis_y, title="[Normalized]")))
    for key in ORDER:
        parts.append(alt.Chart(frame(layers[key])).mark_area(color=COLORS[key], clip=True, opacity=1).encode(x=X, y=Y))
    parts.append(alt.Chart(frame(obs)).mark_line(color="black", strokeWidth=6.5, clip=True, strokeJoin="round").encode(x=X, y=Y))
    # inward ticks on all four sides
    for vals, ln, sw in ((X_MAJOR, 10, 2.5), (X_MINOR, 5, 1.5)):
        d = pd.DataFrame({"v": vals})
        xv = alt.X("v:Q", scale=xs, axis=None)
        parts.append(alt.Chart(d).mark_rule(color="black", strokeWidth=sw).encode(x=xv, y=alt.value(H), y2=alt.value(H - ln)))
        parts.append(alt.Chart(d).mark_rule(color="black", strokeWidth=sw).encode(x=xv, y=alt.value(0), y2=alt.value(ln)))
    for vals, ln, sw in ((ymaj, 10, 2.5), (ymin, 5, 1.5)):
        d = pd.DataFrame({"v": vals})
        yv = alt.Y("v:Q", scale=ys, axis=None)
        parts.append(alt.Chart(d).mark_rule(color="black", strokeWidth=sw).encode(y=yv, x=alt.value(0), x2=alt.value(ln)))
        parts.append(alt.Chart(d).mark_rule(color="black", strokeWidth=sw).encode(y=yv, x=alt.value(W), x2=alt.value(W - ln)))
    # frame
    parts.append(alt.Chart(ONE).mark_rect(fillOpacity=0, stroke="black", strokeWidth=3).encode(
        x=alt.value(0), x2=alt.value(W), y=alt.value(0), y2=alt.value(H)))
    # model name
    parts.append(alt.Chart(pd.DataFrame({"t": [name]})).mark_text(font=FONT, fontSize=38, align="left", baseline="alphabetic", color="black").encode(
        text="t:N", x=alt.value(24), y=alt.value(65)))
    # y label pieces
    parts.append(alt.Chart(pd.DataFrame({"t": ["F"]})).mark_text(font=FONT, fontSize=38, fontStyle="italic", align="left", baseline="alphabetic", angle=270, color="black").encode(
        text="t:N", x=alt.value(-101), y=alt.value(483)))
    parts.append(alt.Chart(pd.DataFrame({"t": ["λ"]})).mark_text(font=FONT, fontSize=26, fontStyle="italic", align="left", baseline="alphabetic", angle=270, color="black").encode(
        text="t:N", x=alt.value(-93), y=alt.value(462)))
    # species labels
    for i, (el, ion, key) in enumerate(zip(ELEMENTS, IONS, LEGEND_KEYS)):
        row = 59.5 + 45.6 * i
        gap = {"I": 945, "II": 933, "III": 922}[ion]
        parts.append(alt.Chart(pd.DataFrame({"t": [el]})).mark_text(font=FONT, fontSize=34, align="right", baseline="alphabetic", color=COLORS[key]).encode(
            text="t:N", x=alt.value(gap), y=alt.value(row)))
        parts.append(alt.Chart(pd.DataFrame({"t": [ion]})).mark_text(font=FONT, fontSize=26, align="right", baseline="alphabetic", color=COLORS[key]).encode(
            text="t:N", x=alt.value(963), y=alt.value(row)))
    return alt.layer(*parts).resolve_axis(x="independent", y="independent").properties(width=W, height=H)


chart = alt.vconcat(*[panel(*p) for p in PANELS], spacing=168.5, bounds="flush").properties(
    padding={"left": 23, "top": 30.5, "right": 0, "bottom": 0}, background="white"
).configure_view(stroke=None)
chart.save("out.html", embed_options={"renderer": "svg", "actions": False})
